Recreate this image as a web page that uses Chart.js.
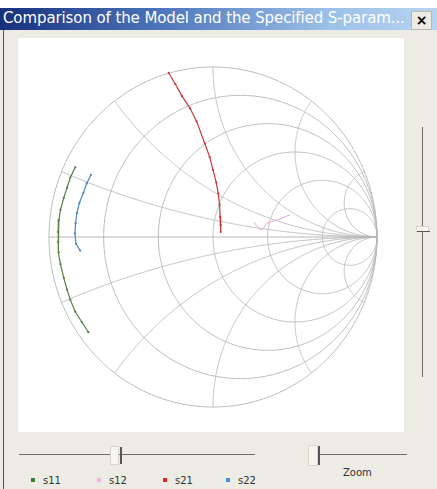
<!DOCTYPE html>
<html>
<head>
<meta charset="utf-8">
<script src="https://cdn.jsdelivr.net/npm/chart.js@4/dist/chart.umd.min.js"></script>
<style>
  html, body { margin: 0; padding: 0; background: #ffffff; }
  body { width: 437px; height: 489px; position: relative; overflow: hidden; font-family: "DejaVu Sans", sans-serif; }
  #win { position: absolute; left: 0; top: 8px; width: 437px; height: 481px; background: #ecebe4; }
  #border { position: absolute; left: 3px; top: 22px; width: 1px; height: 459px; background: #555; }
  #titlebar { position: absolute; left: 0; top: 0; width: 437px; height: 22px;
    background: linear-gradient(to right, #17307e 0%, #4a72b8 35%, #9cc0e8 75%, #b8d4f0 100%); }
  #title { position: absolute; left: 3px; top: 1px; color: #ffffff; font-size: 15px; white-space: nowrap; letter-spacing: -0.1px; }
  #close { position: absolute; left: 411px; top: 3px; width: 19px; height: 17px; background: #ecebe4;
    border: 1px solid #b8b8b0; font: bold 14px "DejaVu Sans", sans-serif; text-align: center; line-height: 16px; color: #000; }
  #panel { position: absolute; left: 18px; top: 38px; width: 386px; height: 394px; background: #ffffff; }
  canvas#smith { position: absolute; left: 0; top: 0; }
  .hline { position: absolute; height: 1px; background: #6e6e6e; }
  .vline { position: absolute; width: 1px; background: #6e6e6e; }
  .thumb { position: absolute; background: #f6f5f0; border: 1px solid #d8d6cc; }
  .tick { position: absolute; width: 2px; background: #555; }
  #zoomlbl { position: absolute; left: 343px; top: 467px; font-size: 10px; color: #333; }
  .leg { position: absolute; top: 475px; font-size: 10px; color: #333; }
  .leg i { display: inline-block; width: 4px; height: 4px; margin-right: 8px; vertical-align: middle; position: relative; top: -1px; }
</style>
</head>
<body>
<div id="win">
  <div id="titlebar">
    <div id="title">Comparison of the Model and the Specified S-param...</div>
    <div id="close">×</div>
  </div>
  <div id="border"></div>
</div>
<div id="panel"><canvas id="smith" width="386" height="394"></canvas></div>

<!-- vertical slider -->
<div class="vline" style="left:422px; top:127px; height:250px;"></div>
<div class="thumb" style="left:416px; top:226px; width:11px; height:4px;"></div>
<div class="hline" style="left:417px; top:231px; width:13px; background:#555;"></div>

<!-- frequency slider -->
<div class="hline" style="left:19px; top:454px; width:236px;"></div>
<div class="thumb" style="left:110px; top:446px; width:7px; height:17px;"></div>
<div class="tick" style="left:120px; top:447px; height:17px;"></div>

<!-- zoom slider -->
<div class="hline" style="left:318px; top:454px; width:89px;"></div>
<div class="thumb" style="left:308px; top:445px; width:8px; height:19px;"></div>
<div class="tick" style="left:318px; top:446px; height:19px;"></div>
<div id="zoomlbl">Zoom</div>

<div id="legend"></div>

<script>
// S-parameter traces, reflection-coefficient plane (real, imaginary)
const seriesNames = ['s11', 's12', 's21', 's22'];
const seriesColors = ['#557f3e', '#e6a6da', '#c8383a', '#4a86c8'];
const legendColors = ['#3f7a3a', '#f0b4e2', '#e02828', '#3a92e0'];

const s11Re = [-0.84, -0.87, -0.89, -0.91, -0.93, -0.94, -0.945, -0.945, -0.94, -0.93, -0.91, -0.89, -0.87, -0.84, -0.80, -0.76];
const s11Im = [0.41, 0.35, 0.29, 0.23, 0.16, 0.10, 0.03, -0.03, -0.09, -0.16, -0.24, -0.31, -0.37, -0.44, -0.50, -0.56];

const s12Re = [0.25, 0.268, 0.287, 0.307, 0.327, 0.358, 0.388, 0.419, 0.439, 0.47];
const s12Im = [0.086, 0.065, 0.041, 0.051, 0.081, 0.090, 0.100, 0.110, 0.119, 0.13];

const s21Re = [-0.27, -0.23, -0.19, -0.14, -0.10, -0.05, -0.02, 0.00, 0.02, 0.032, 0.04, 0.043, 0.047, 0.047];
const s21Im = [0.965, 0.90, 0.83, 0.757, 0.68, 0.55, 0.47, 0.395, 0.32, 0.257, 0.19, 0.12, 0.07, 0.03];

const s22Re = [-0.745, -0.77, -0.79, -0.815, -0.83, -0.838, -0.842, -0.835, -0.81];
const s22Im = [0.365, 0.315, 0.26, 0.20, 0.14, 0.08, 0.02, -0.04, -0.08];

// Smith chart grid: normalized resistance circles and reactance arcs
const resistanceCircles = [0.2, 0.5, 1, 2, 5];
const reactanceArcs = [0.2, 0.5, 1, 2, 5];

const pairs = (re, im) => re.map((v, i) => ({ x: v, y: im[i] }));
const traces = [pairs(s11Re, s11Im), pairs(s12Re, s12Im), pairs(s21Re, s21Im), pairs(s22Re, s22Im)];

// z -> gamma = (z - 1) / (z + 1)
function gamma(r, x) {
  const d = (r + 1) * (r + 1) + x * x;
  return { x: (r * r + x * x - 1) / d, y: (2 * x) / d };
}

const smithGrid = {
  id: 'smithGrid',
  beforeDatasetsDraw(chart) {
    const { ctx, scales } = chart;
    const sx = scales.x, sy = scales.y;
    const px = g => sx.getPixelForValue(g.x);
    const py = g => sy.getPixelForValue(g.y);
    ctx.save();
    ctx.strokeStyle = '#b8b8b8';
    ctx.lineWidth = 1;

    const drawPath = pts => {
      ctx.beginPath();
      pts.forEach((g, i) => i ? ctx.lineTo(px(g), py(g)) : ctx.moveTo(px(g), py(g)));
      ctx.stroke();
    };
    const N = 720;
    const circlePts = (cx, cy, rad) => {
      const pts = [];
      for (let k = 0; k <= N; k++) {
        const a = (k / N) * Math.PI * 2;
        pts.push({ x: cx + rad * Math.cos(a), y: cy + rad * Math.sin(a) });
      }
      return pts;
    };
    // outer circle (r = 0)
    drawPath(circlePts(0, 0, 1));

    // real axis
    drawPath([{ x: -1, y: 0 }, { x: 1, y: 0 }]);

    // constant resistance circles
    resistanceCircles.forEach(r => drawPath(circlePts(r / (r + 1), 0, 1 / (r + 1))));

    // constant reactance arcs, both signs
    reactanceArcs.forEach(xv => {
      [xv, -xv].forEach(x => {
        const pts = [];
        for (let k = 0; k < 600; k++) {
          const r = Math.tan((k / 600) * Math.PI / 2);
          pts.push(gamma(r, x));
        }
        pts.push({ x: 1, y: 0 });
        drawPath(pts);
      });
    });
    ctx.restore();
  }
};

new Chart(document.getElementById('smith'), {
  type: 'scatter',
  data: {
    datasets: traces.map((pts, i) => ({
      label: seriesNames[i],
      data: pts,
      showLine: true,
      borderColor: seriesColors[i],
      backgroundColor: seriesColors[i],
      borderWidth: i === 1 ? 1 : 1.2,
      pointRadius: i === 1 ? 0 : 1.1,
      pointBorderWidth: 0,
      tension: 0
    }))
  },
  options: {
    responsive: false,
    animation: false,
    devicePixelRatio: 1,
    layout: { padding: { left: 31, right: 27, top: 29, bottom: 25 } },
    scales: {
      x: { type: 'linear', min: -1, max: 1, display: false },
      y: { type: 'linear', min: -1, max: 1, display: false }
    },
    plugins: { legend: { display: false }, tooltip: { enabled: false } }
  },
  plugins: [smithGrid]
});

// legend row under the sliders
const legendX = [31, 97, 163, 226];
const legendEl = document.getElementById('legend');
seriesNames.forEach((name, i) => {
  const d = document.createElement('div');
  d.className = 'leg';
  d.style.left = legendX[i] + 'px';
  d.innerHTML = '<i style="background:' + legendColors[i] + '"></i>' + name;
  legendEl.appendChild(d);
});
</script>
</body>
</html>
